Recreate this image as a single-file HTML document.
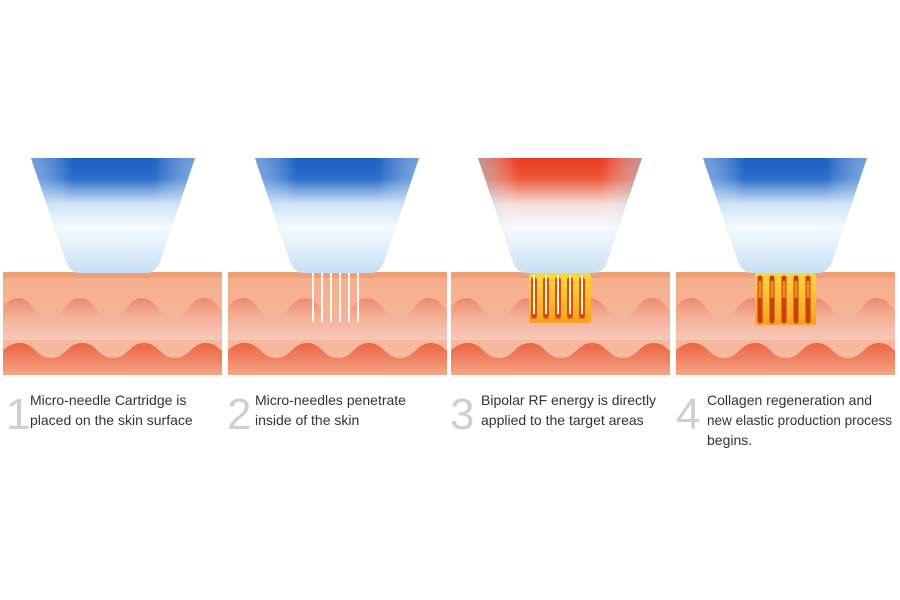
<!DOCTYPE html>
<html><head><meta charset="utf-8"><style>
html,body{margin:0;padding:0;background:#fff;width:900px;height:600px;overflow:hidden}
svg{display:block}
text{font-family:"Liberation Sans",sans-serif}
</style></head><body>
<svg width="900" height="600" viewBox="0 0 900 600">
<defs>
<clipPath id="pc"><rect x="0" y="272" width="219" height="103"/></clipPath>
<linearGradient id="skin" x1="0" y1="0" x2="0" y2="1">
<stop offset="0" stop-color="#f5ae8c"/><stop offset="1" stop-color="#f6bca6"/></linearGradient>
<linearGradient id="w1" x1="0" y1="0" x2="0" y2="1">
<stop offset="0" stop-color="#ee8a68"/><stop offset="0.45" stop-color="#f4b09a"/><stop offset="1" stop-color="#f7c8b8"/></linearGradient>
<linearGradient id="w2" x1="0" y1="0" x2="0" y2="1">
<stop offset="0" stop-color="#ee6442"/><stop offset="0.6" stop-color="#f08a6a"/><stop offset="1" stop-color="#f4a888"/></linearGradient>
<linearGradient id="hb" x1="0" y1="0" x2="0" y2="1">
<stop offset="0" stop-color="#1e5fc0"/><stop offset="0.18" stop-color="#2c6fcc"/><stop offset="0.4" stop-color="#cfe3f6"/><stop offset="0.6" stop-color="#f6fbff"/><stop offset="1" stop-color="#c6e0f4"/></linearGradient>
<linearGradient id="hr" x1="0" y1="0" x2="0" y2="1">
<stop offset="0" stop-color="#e83a1e"/><stop offset="0.18" stop-color="#ec5a3a"/><stop offset="0.4" stop-color="#f5dcd8"/><stop offset="0.6" stop-color="#f6fbff"/><stop offset="1" stop-color="#c6e0f4"/></linearGradient>
<linearGradient id="side" x1="0" y1="0" x2="1" y2="0">
<stop offset="0" stop-color="#a8cdee" stop-opacity="0.6"/><stop offset="0.25" stop-color="#fff" stop-opacity="0"/><stop offset="0.75" stop-color="#fff" stop-opacity="0"/><stop offset="1" stop-color="#a8cdee" stop-opacity="0.6"/></linearGradient>
<linearGradient id="heat" x1="0" y1="0" x2="0" y2="1">
<stop offset="0" stop-color="#ffd640"/><stop offset="1" stop-color="#f5a020"/></linearGradient>
<g id="skinp">
<g clip-path="url(#pc)">
<rect x="0" y="272" width="219" height="103" fill="url(#skin)"/>
<rect x="0" y="272" width="219" height="6" fill="#f09f74"/>
<path d="M-16,340 L-16,318 C-1,318 0,298 15,298 C30,298 31,318 46,318 C61,318 62,298 77,298 C92,298 93,318 108,318 C123,318 124,298 139,298 C154,298 155,318 170,318 C185,318 186,298 201,298 C216,298 217,318 232,318 L232,340 Z" fill="url(#w1)"/>
<path d="M-16,375 L-16,358 C-1,358 0,343 17,343 C32,343 33,358 48,358 C63,358 64,343 79,343 C94,343 95,358 110,358 C125,358 126,343 141,343 C156,343 157,358 172,358 C187,358 188,343 203,343 C218,343 219,358 234,358 L234,375 Z" fill="url(#w2)"/>
</g>
</g>
</defs>

<use href="#skinp" x="3"/>
<use href="#skinp" x="228"/>
<use href="#skinp" x="451"/>
<use href="#skinp" x="676"/>

<g>
<path d="M31,158 L195,158 L160,262 Q156,273 146,273 L80,273 Q70,273 66,262 Z" fill="url(#hb)"/>
<path d="M31,158 L195,158 L160,262 Q156,273 146,273 L80,273 Q70,273 66,262 Z" fill="url(#side)"/>
</g>
<g>
<path d="M255,158 L419,158 L384,262 Q380,273 370,273 L304,273 Q294,273 290,262 Z" fill="url(#hb)"/>
<path d="M255,158 L419,158 L384,262 Q380,273 370,273 L304,273 Q294,273 290,262 Z" fill="url(#side)"/>
</g>
<g>
<path d="M478,158 L642,158 L607,262 Q603,273 593,273 L527,273 Q517,273 513,262 Z" fill="url(#hr)"/>
<path d="M478,158 L642,158 L607,262 Q603,273 593,273 L527,273 Q517,273 513,262 Z" fill="url(#side)"/>
</g>
<g>
<path d="M703,158 L867,158 L832,262 Q828,273 818,273 L752,273 Q742,273 738,262 Z" fill="url(#hb)"/>
<path d="M703,158 L867,158 L832,262 Q828,273 818,273 L752,273 Q742,273 738,262 Z" fill="url(#side)"/>
</g>

<g stroke="#fff" stroke-width="2" opacity="0.9">
<line x1="313" y1="273" x2="313" y2="322"/><line x1="322" y1="273" x2="322" y2="322"/>
<line x1="331" y1="273" x2="331" y2="322"/><line x1="340" y1="273" x2="340" y2="322"/>
<line x1="349" y1="273" x2="349" y2="322"/><line x1="358" y1="273" x2="358" y2="322"/>
</g>

<g>
<rect x="529" y="273" width="62" height="50" rx="3" fill="url(#heat)"/>
<g stroke="#d85010" stroke-width="6" stroke-linecap="round">
<line x1="534" y1="280" x2="534" y2="316"/><line x1="546" y1="280" x2="546" y2="316"/>
<line x1="558" y1="280" x2="558" y2="316"/><line x1="570" y1="280" x2="570" y2="316"/>
<line x1="582" y1="280" x2="582" y2="316"/>
</g>
<g stroke="#fff6d0" stroke-width="2">
<line x1="534" y1="275" x2="534" y2="314"/><line x1="546" y1="275" x2="546" y2="314"/>
<line x1="558" y1="275" x2="558" y2="314"/><line x1="570" y1="275" x2="570" y2="314"/>
<line x1="582" y1="275" x2="582" y2="314"/>
</g>
</g>

<g>
<rect x="755" y="273" width="61" height="52" rx="2" fill="url(#heat)"/>
<g stroke="#c8400c" stroke-width="5" stroke-linecap="round">
<line x1="760" y1="278" x2="760" y2="321"/><line x1="772" y1="278" x2="772" y2="321"/>
<line x1="784" y1="278" x2="784" y2="321"/><line x1="796" y1="278" x2="796" y2="321"/>
<line x1="808" y1="278" x2="808" y2="321"/>
</g>
<g stroke="#f08a20" stroke-width="3">
<line x1="760" y1="281" x2="760" y2="298"/><line x1="772" y1="281" x2="772" y2="298"/>
<line x1="784" y1="281" x2="784" y2="298"/><line x1="796" y1="281" x2="796" y2="298"/>
<line x1="808" y1="281" x2="808" y2="298"/>
</g>
</g>

<g fill="#cfcfcf" font-size="44">
<text x="6" y="429">1</text>
<text x="227" y="429">2</text>
<text x="450" y="429">3</text>
<text x="676" y="429">4</text>
</g>
<g fill="#333" font-size="14">
<text x="30" y="405">Micro-needle Cartridge is</text>
<text x="30" y="425">placed on the skin surface</text>
<text x="255" y="405">Micro-needles penetrate</text>
<text x="255" y="425">inside of the skin</text>
<text x="481" y="405">Bipolar RF energy is directly</text>
<text x="481" y="425">applied to the target areas</text>
<text x="707" y="405">Collagen regeneration and</text>
<text x="707" y="425" textLength="185" lengthAdjust="spacingAndGlyphs">new elastic production process</text>
<text x="707" y="445">begins.</text>
</g>
</svg>
</body></html>
